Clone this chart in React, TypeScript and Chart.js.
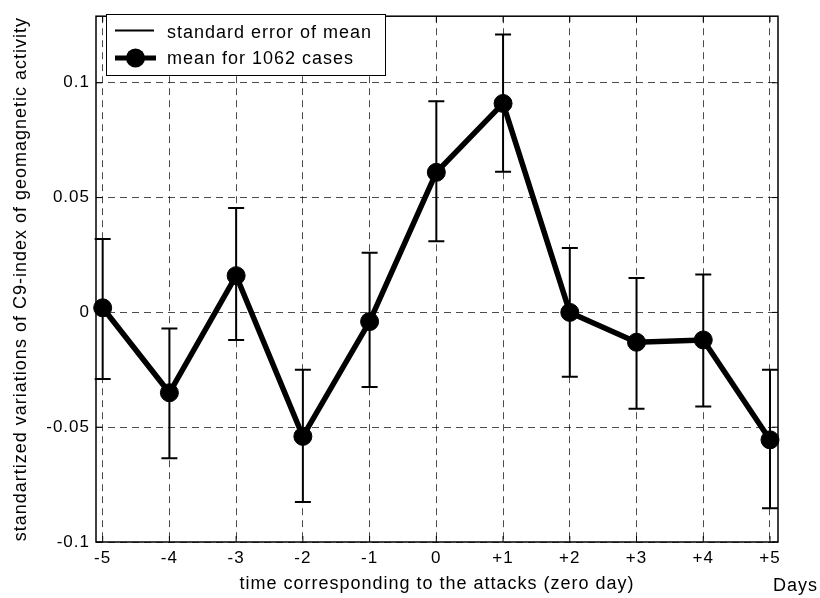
import React, { useEffect, useRef } from 'react';
import { Chart, registerables } from 'chart.js';

Chart.register(...registerables);

const days = [-5, -4, -3, -2, -1, 0, 1, 2, 3, 4, 5];
const dayLabels = ['-5', '-4', '-3', '-2', '-1', '0', '+1', '+2', '+3', '+4', '+5'];
const meanValues = [0.002, -0.035, 0.016, -0.054, -0.004, 0.061, 0.091, 0.0, -0.013, -0.012, -0.0555];
const errUpper = [0.032, -0.007, 0.0455, -0.025, 0.026, 0.092, 0.121, 0.028, 0.015, 0.0165, -0.025];
const errLower = [-0.029, -0.0635, -0.012, -0.0826, -0.0325, 0.031, 0.0613, -0.028, -0.042, -0.041, -0.0853];
const yTickValues = [-0.1, -0.05, 0, 0.05, 0.1];
const yTickLabels = ['-0.1', '-0.05', '0', '0.05', '0.1'];
const legendLabels = ['standard error of mean', 'mean for 1062 cases'];
const xTitle = 'time corresponding to the attacks (zero day)';
const yTitle = 'standartized variations of C9-index of geomagnetic activity';
const unitLabel = 'Days';

const FONT = '"Liberation Sans", Arial, Helvetica, sans-serif';

const setSpacing = (chart: any) => {
  try {
    (chart.ctx as any).letterSpacing = '1px';
  } catch (e) {}
};

const spacingPlugin = {
  id: 'spacing',
  beforeUpdate: setSpacing,
  beforeLayout: setSpacing,
  beforeDraw: setSpacing,
};

const framePlugin = {
  id: 'frameAndErrors',
  beforeDatasetsDraw(chart: any) {
    const { ctx, chartArea, scales } = chart;
    const x = scales.x;
    const y = scales.y;
    ctx.save();
    // frame
    ctx.strokeStyle = '#000';
    ctx.lineWidth = 1.5;
    ctx.setLineDash([]);
    ctx.strokeRect(chartArea.left, chartArea.top, chartArea.right - chartArea.left, chartArea.bottom - chartArea.top);
    // inward tick marks
    ctx.lineWidth = 1;
    ctx.beginPath();
    days.forEach((d) => {
      const px = x.getPixelForValue(d);
      ctx.moveTo(px, chartArea.bottom);
      ctx.lineTo(px, chartArea.bottom - 6);
      ctx.moveTo(px, chartArea.top);
      ctx.lineTo(px, chartArea.top + 6);
    });
    yTickValues.forEach((v) => {
      const py = y.getPixelForValue(v);
      ctx.moveTo(chartArea.left, py);
      ctx.lineTo(chartArea.left + 6, py);
      ctx.moveTo(chartArea.right, py);
      ctx.lineTo(chartArea.right - 6, py);
    });
    ctx.stroke();
    // error bars
    ctx.lineWidth = 2;
    ctx.beginPath();
    days.forEach((d, i) => {
      const px = x.getPixelForValue(d);
      const top = y.getPixelForValue(errUpper[i]);
      const bot = y.getPixelForValue(errLower[i]);
      ctx.moveTo(px, top);
      ctx.lineTo(px, bot);
      ctx.moveTo(px - 8, top);
      ctx.lineTo(px + 8, top);
      ctx.moveTo(px - 8, bot);
      ctx.lineTo(px + 8, bot);
    });
    ctx.stroke();
    ctx.restore();
  },
  afterDraw(chart: any) {
    const { ctx } = chart;
    ctx.save();
    try {
      (ctx as any).letterSpacing = '1px';
    } catch (e) {}
    // legend box
    const lx = 106;
    const ly = 14;
    const lw = 279;
    const lh = 61;
    ctx.fillStyle = '#fff';
    ctx.fillRect(lx, ly, lw, lh);
    ctx.strokeStyle = '#000';
    ctx.lineWidth = 1;
    ctx.setLineDash([]);
    ctx.strokeRect(lx + 0.5, ly + 0.5, lw, lh);
    // sample 1: thin line
    ctx.lineWidth = 2;
    ctx.beginPath();
    ctx.moveTo(115, 30.5);
    ctx.lineTo(154, 30.5);
    ctx.stroke();
    // sample 2: thick line + dot
    ctx.lineWidth = 5;
    ctx.beginPath();
    ctx.moveTo(115, 58);
    ctx.lineTo(156, 58);
    ctx.stroke();
    ctx.fillStyle = '#000';
    ctx.beginPath();
    ctx.arc(135.5, 58, 9.5, 0, Math.PI * 2);
    ctx.fill();
    // texts
    ctx.font = `18px ${FONT}`;
    ctx.textAlign = 'left';
    ctx.textBaseline = 'alphabetic';
    ctx.fillStyle = '#000';
    ctx.fillText(legendLabels[0], 167, 38);
    ctx.fillText(legendLabels[1], 167, 63.5);
    // unit label
    ctx.fillText(unitLabel, 773, 590.5);
    ctx.restore();
  },
};

export default function App() {
  const canvasRef = useRef<HTMLCanvasElement | null>(null);

  useEffect(() => {
    const canvas = canvasRef.current;
    if (!canvas) return;
    const chart = new Chart(canvas, {
      type: 'line',
      data: {
        datasets: [
          {
            label: legendLabels[1],
            data: days.map((d, i) => ({ x: d, y: meanValues[i] })),
            borderColor: '#000',
            backgroundColor: '#000',
            borderWidth: 5.5,
            pointRadius: 9,
            pointBorderWidth: 1,
            pointBackgroundColor: '#000',
            pointBorderColor: '#000',
            tension: 0,
            clip: false as any,
          },
        ],
      },
      options: {
        responsive: false,
        animation: false,
        devicePixelRatio: 1,
        layout: { padding: { left: 0, right: 42, top: 7, bottom: 0 } },
        plugins: {
          legend: { display: false },
          tooltip: { enabled: false },
          title: { display: false },
        },
        scales: {
          x: {
            type: 'linear',
            min: -5.1,
            max: 5.12,
            afterBuildTicks: (s: any) => {
              s.ticks = days.map((v) => ({ value: v }));
            },
            afterFit: (s: any) => {
              s.height = 56;
            },
            ticks: {
              autoSkip: false,
              maxRotation: 0,
              padding: 6,
              color: '#000',
              font: { family: FONT, size: 17 },
              callback: (v: any) => {
                const idx = days.indexOf(Number(v));
                return idx >= 0 ? dayLabels[idx] : '';
              },
            },
            grid: {
              color: 'rgba(0,0,0,0.7)',
              lineWidth: 1,
              drawTicks: false,
            },
            border: { display: false, dash: [7, 5] },
            title: {
              display: true,
              text: xTitle,
              color: '#000',
              font: { family: FONT, size: 18 },
              padding: { top: 0, bottom: 3 },
            },
          },
          y: {
            type: 'linear',
            min: -0.1,
            max: 0.129,
            afterBuildTicks: (s: any) => {
              s.ticks = yTickValues.map((v) => ({ value: v }));
            },
            afterFit: (s: any) => {
              s.width = 96;
            },
            ticks: {
              padding: 6,
              color: '#000',
              font: { family: FONT, size: 17 },
              callback: (v: any) => {
                const idx = yTickValues.findIndex((t) => Math.abs(t - Number(v)) < 1e-9);
                return idx >= 0 ? yTickLabels[idx] : '';
              },
            },
            grid: {
              color: 'rgba(0,0,0,0.7)',
              lineWidth: 1,
              drawTicks: false,
            },
            border: { display: false, dash: [7, 5] },
            title: {
              display: true,
              text: yTitle,
              color: '#000',
              font: { family: FONT, size: 18 },
              padding: { top: 10, bottom: 0 },
            },
          },
        },
      },
      plugins: [spacingPlugin, framePlugin],
    } as any);
    return () => {
      chart.destroy();
    };
  }, []);

  return (
    <div style={{ position: 'fixed', left: 0, top: 0, width: 820, height: 598, background: '#fff' }}>
      <canvas ref={canvasRef} width={820} height={598} style={{ display: 'block' }} />
    </div>
  );
}
